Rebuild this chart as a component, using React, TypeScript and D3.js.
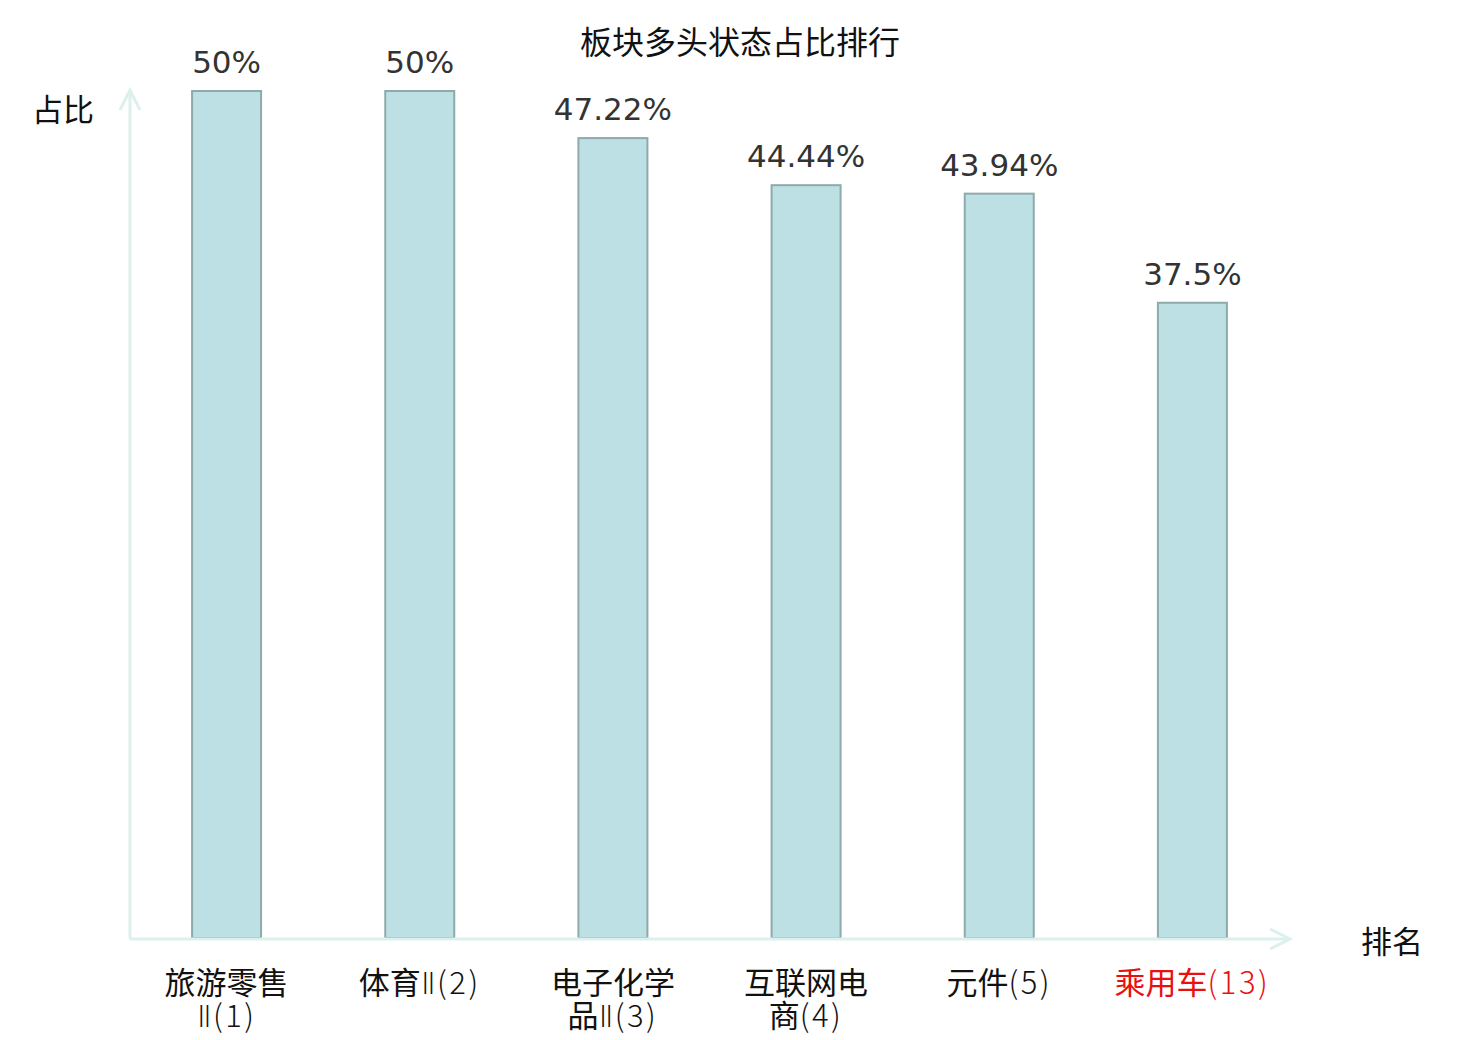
import React from "react";
import * as d3 from "d3";

const title = "板块多头状态占比排行";
const yAxisName = "占比";
const xAxisName = "排名";
const names = ["旅游零售Ⅱ", "体育Ⅱ", "电子化学品Ⅱ", "互联网电商", "元件", "乘用车"];
const ranks = [1, 2, 3, 4, 5, 13];
const values = [50, 50, 47.22, 44.44, 43.94, 37.5];
const highlightRank = 13;

const W = 1480;
const H = 1040;
const left = 130;
const right = 1289;
const baseY = 939;
const topY = 91;

const cjk = "'Noto Sans CJK SC', 'Noto Sans', sans-serif";
const thin = "'DejaVu Sans ExtraLight', 'Noto Sans CJK SC', sans-serif";
const roman = "'DejaVu Sans', 'Noto Sans CJK SC', sans-serif";
const axisColor = "#dcf0ee";

function wrapName(name: string, rank: number): string[] {
  const tail = `(${rank})`;
  if (name.length > 4) return [name.slice(0, 4), name.slice(4) + tail];
  return [name + tail];
}

type Run = { t: string; k: "c" | "r" | "l" };
function runs(s: string): Run[] {
  const out: Run[] = [];
  for (const ch of s) {
    const k: Run["k"] = /[\u4e00-\u9fff]/.test(ch) ? "c" : /[\u2160-\u217f]/.test(ch) ? "r" : "l";
    if (out.length && out[out.length - 1].k === k) out[out.length - 1].t += ch;
    else out.push({ t: ch, k });
  }
  return out;
}

export default function App() {
  const cats = names.map((n, i) => `${n}(${ranks[i]})`);
  const x = d3.scaleBand<string>().domain(cats).range([left, right]).padding(0);
  const y = d3.scaleLinear().domain([0, 50]).range([baseY - 1, topY]);
  const barW = 69;

  return (
    <svg
      width={W}
      height={H}
      style={{ position: "absolute", left: 0, top: 0, display: "block", background: "#fff" }}
    >
      <text x={740} y={54} textAnchor="middle" fontFamily={cjk} fontSize={32} fill="#111">
        {title}
      </text>

      {values.map((v, i) => {
        const cx = (x(cats[i]) as number) + x.bandwidth() / 2;
        const yt = y(v);
        return (
          <g key={i}>
            <rect
              x={cx - barW / 2}
              y={yt}
              width={barW}
              height={baseY - 1 - yt}
              fill="#bce0e3"
              stroke="#8eaaab"
              strokeWidth={2}
            />
            <text
              x={cx}
              y={yt - 18}
              textAnchor="middle"
              fontFamily="'DejaVu Sans', sans-serif"
              fontSize={31}
              fill="#333"
            >
              {`${v}%`}
            </text>
          </g>
        );
      })}

      {/* axes */}
      <line x1={left} y1={baseY} x2={left} y2={90} stroke={axisColor} strokeWidth={3} />
      <polyline
        points={`${left - 10},${110} ${left},${90} ${left + 10},${110}`}
        fill="none"
        stroke={axisColor}
        strokeWidth={3}
      />
      <line x1={left} y1={baseY} x2={1290} y2={baseY} stroke={axisColor} strokeWidth={3} />
      <polyline
        points={`${1270},${baseY - 10} ${1290},${baseY} ${1270},${baseY + 10}`}
        fill="none"
        stroke={axisColor}
        strokeWidth={3}
      />

      <text x={63} y={121} textAnchor="middle" fontFamily={cjk} fontSize={31} fill="#111">
        {yAxisName}
      </text>
      <text x={1392} y={953} textAnchor="middle" fontFamily={cjk} fontSize={31} fill="#111">
        {xAxisName}
      </text>

      {names.map((n, i) => {
        const cx = (x(cats[i]) as number) + x.bandwidth() / 2;
        const lines = wrapName(n, ranks[i]);
        const color = ranks[i] === highlightRank ? "#e81010" : "#111";
        return (
          <g key={i}>
            {lines.map((l, j) => (
              <text
                key={j}
                x={cx}
                y={994 + j * 32.5}
                textAnchor="middle"
                fontFamily={cjk}
                fontSize={31}
                fill={color}
              >
                {runs(l).map((r, k) => (
                  <tspan
                    key={k}
                    fontFamily={r.k === "c" ? cjk : r.k === "r" ? roman : thin}
                    fontWeight={r.k === "l" ? 300 : r.k === "r" ? 200 : 400}
                    letterSpacing={r.k === "l" ? 2.5 : r.k === "r" ? 1 : 0}
                  >
                    {r.t}
                  </tspan>
                ))}
              </text>
            ))}
          </g>
        );
      })}
    </svg>
  );
}
